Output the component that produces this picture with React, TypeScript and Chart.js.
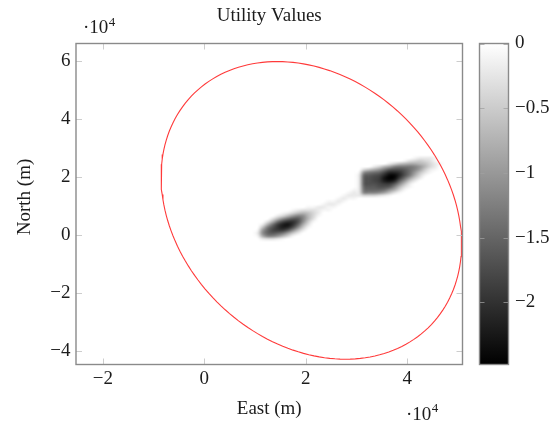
import React, { useEffect, useRef } from "react";
import { Chart, registerables } from "chart.js";

Chart.register(...registerables);

// ---------- data ----------
const TITLE = "Utility Values";
const X_LABEL = "East (m)";
const Y_LABEL = "North (m)";
const xLimits = [-25300, 50900];
const yLimits = [-44800, 66000];
const xTicks = [-20000, 0, 20000, 40000];
const yTicks = [-40000, -20000, 0, 20000, 40000, 60000];
const cbLimits = [-2.48, 0];
const cbTicks = [-2, -1.5, -1, -0.5, 0];

// utility grid, 1000 m cells: [row index j (north/1000), first column i (east/1000), codes]
// each code char = |utility| in tenths (base 36: 0-9, a=1.0 ... p=2.5)
const cellSize = 1000;
const heatRows: [number, number, string][] = [
  [26, 41, "12221"],
  [25, 39, "1345431"],
  [24, 36, "24678876421"],
  [23, 33, "2479cdddca742"],
  [22, 31, "468adghhgec9521"],
  [21, 30, "1bdefillkhea631"],
  [20, 30, "2fghiloolhd841"],
  [19, 30, "2ghijnpoje952"],
  [18, 30, "2ghijmnlfa52"],
  [17, 30, "2ghhijjgb62"],
  [16, 30, "2fgghhgc731"],
  [15, 29, "12efffeb841"],
  [14, 28, "122cccb9631"],
  [13, 27, "1222444321"],
  [12, 26, "1211"],
  [11, 24, "1121"],
  [10, 23, "1221"],
  [9, 20, "112211"],
  [8, 17, "12333211"],
  [7, 15, "12467642"],
  [6, 14, "247acb741"],
  [5, 13, "37beggc73"],
  [4, 12, "38eikkhb51"],
  [3, 11, "28ejmnkf83"],
  [2, 11, "6dhkmlhb51"],
  [1, 10, "1afijjgb62"],
  [0, 10, "2bfgfd952"],
  [-1, 10, "18cca741"],
  [-2, 11, "23321"],
];

// red boundary ellipse (center, semi-axes, rotation)
const ellipseCenter = [21100, 8400];
const ellipseSemiAxes = [52000, 28500];
const ellipseAngleDeg = 100.7;
const ellipseSamples = 180;

// ---------- derived ----------
const ellipsePoints = (() => {
  const th = (ellipseAngleDeg * Math.PI) / 180;
  const pts: { x: number; y: number }[] = [];
  for (let k = 0; k <= ellipseSamples; k++) {
    const t = (2 * Math.PI * k) / ellipseSamples;
    const a = ellipseSemiAxes[0] * Math.cos(t);
    const b = ellipseSemiAxes[1] * Math.sin(t);
    pts.push({
      x: ellipseCenter[0] + a * Math.cos(th) - b * Math.sin(th),
      y: ellipseCenter[1] + a * Math.sin(th) + b * Math.cos(th),
    });
  }
  return pts;
})();

const FONT = '"Liberation Serif", "Times New Roman", serif';
const FS = 19;
const TEXT = "#1c1c1c";
const FRAME = "#8a8a8a";
const TICK = "#cdcdcd";

const fmt = (v: number) => {
  const r = Math.round(v * 100) / 100;
  return String(r).replace("-", "\u2212");
};

const grayOf = (v: number) => {
  const f = Math.max(0, Math.min(1, v / cbLimits[0]));
  return Math.round(255 * (1 - f));
};

const pgfPlugin = {
  id: "pgf",
  beforeDatasetsDraw(chart: any) {
    const { ctx, chartArea: a, scales } = chart;
    const xs = scales.x;
    const ys = scales.y;
    let iMin = Infinity, iMax = -Infinity, jMin = Infinity, jMax = -Infinity;
    heatRows.forEach(([j, i0, s]) => {
      iMin = Math.min(iMin, i0);
      iMax = Math.max(iMax, i0 + s.length - 1);
      jMin = Math.min(jMin, j);
      jMax = Math.max(jMax, j);
    });
    iMin -= 1; iMax += 1; jMin -= 1; jMax += 1;
    const cols = iMax - iMin + 1;
    const rows = jMax - jMin + 1;
    const off = document.createElement("canvas");
    off.width = cols;
    off.height = rows;
    const octx = off.getContext("2d")!;
    const img = octx.createImageData(cols, rows);
    for (let p = 0; p < img.data.length; p += 4) {
      img.data[p] = img.data[p + 1] = img.data[p + 2] = 255;
      img.data[p + 3] = 255;
    }
    heatRows.forEach(([j, i0, s]) => {
      for (let k = 0; k < s.length; k++) {
        const v = -parseInt(s[k], 36) / 10;
        const g = grayOf(v);
        const idx = ((jMax - j) * cols + (i0 + k - iMin)) * 4;
        img.data[idx] = img.data[idx + 1] = img.data[idx + 2] = g;
      }
    });
    octx.putImageData(img, 0, 0);
    const x0 = xs.getPixelForValue(iMin * cellSize);
    const x1 = xs.getPixelForValue((iMax + 1) * cellSize);
    const y0 = ys.getPixelForValue((jMax + 1) * cellSize);
    const y1 = ys.getPixelForValue(jMin * cellSize);
    ctx.save();
    ctx.beginPath();
    ctx.rect(a.left, a.top, a.right - a.left, a.bottom - a.top);
    ctx.clip();
    ctx.imageSmoothingEnabled = true;
    ctx.imageSmoothingQuality = "high";
    ctx.drawImage(off, x0, y0, x1 - x0, y1 - y0);
    ctx.restore();
  },
  afterDraw(chart: any) {
    const { ctx, chartArea: a, scales } = chart;
    const xs = scales.x;
    const ys = scales.y;
    const cb = scales.cb;
    ctx.save();
    // inner tick marks
    ctx.strokeStyle = TICK;
    ctx.lineWidth = 1;
    const tl = 6;
    xTicks.forEach((v) => {
      const px = Math.round(xs.getPixelForValue(v)) + 0.5;
      ctx.beginPath();
      ctx.moveTo(px, a.bottom);
      ctx.lineTo(px, a.bottom - tl);
      ctx.moveTo(px, a.top);
      ctx.lineTo(px, a.top + tl);
      ctx.stroke();
    });
    yTicks.forEach((v) => {
      const py = Math.round(ys.getPixelForValue(v)) + 0.5;
      ctx.beginPath();
      ctx.moveTo(a.left, py);
      ctx.lineTo(a.left + tl, py);
      ctx.moveTo(a.right, py);
      ctx.lineTo(a.right - tl, py);
      ctx.stroke();
    });
    // frame
    ctx.strokeStyle = FRAME;
    ctx.lineWidth = 1.4;
    ctx.strokeRect(a.left, a.top, a.right - a.left, a.bottom - a.top);

    // colorbar
    const cbL = a.right + 17;
    const cbW = 29;
    const cTop = cb.getPixelForValue(cbLimits[1]);
    const cBot = cb.getPixelForValue(cbLimits[0]);
    const grad = ctx.createLinearGradient(0, cTop, 0, cBot);
    grad.addColorStop(0, `rgb(${grayOf(cbLimits[1])},${grayOf(cbLimits[1])},${grayOf(cbLimits[1])})`);
    grad.addColorStop(1, `rgb(${grayOf(cbLimits[0])},${grayOf(cbLimits[0])},${grayOf(cbLimits[0])})`);
    ctx.fillStyle = grad;
    ctx.fillRect(cbL, cTop, cbW, cBot - cTop);
    ctx.strokeStyle = "rgba(160,160,160,0.75)";
    ctx.lineWidth = 1;
    cbTicks.forEach((v) => {
      const py = Math.round(cb.getPixelForValue(v)) + 0.5;
      ctx.beginPath();
      ctx.moveTo(cbL, py);
      ctx.lineTo(cbL + 5, py);
      ctx.moveTo(cbL + cbW, py);
      ctx.lineTo(cbL + cbW - 5, py);
      ctx.stroke();
    });
    ctx.strokeStyle = FRAME;
    ctx.lineWidth = 1.4;
    ctx.strokeRect(cbL, cTop, cbW, cBot - cTop);

    // texts
    ctx.fillStyle = TEXT;
    ctx.font = `${FS}px ${FONT}`;
    ctx.textBaseline = "alphabetic";
    ctx.textAlign = "center";
    const cx = (a.left + a.right) / 2;
    ctx.fillText(TITLE, cx, 20.5);
    ctx.fillText(X_LABEL, cx, 414);

    const mult = (x: number, y: number) => {
      ctx.textAlign = "left";
      ctx.font = `${FS}px ${FONT}`;
      ctx.fillText("\u00b710", x, y);
      const w = ctx.measureText("\u00b710").width;
      ctx.font = `13px ${FONT}`;
      ctx.fillText("4", x + w + 0.5, y - 7.5);
    };
    mult(83, 33);
    mult(406, 419.5);

    ctx.save();
    ctx.font = `${FS}px ${FONT}`;
    ctx.textAlign = "center";
    ctx.translate(29.5, 197);
    ctx.rotate(-Math.PI / 2);
    ctx.fillText(Y_LABEL, 0, 0);
    ctx.restore();
    ctx.restore();
  },
};

const tickFont = { family: FONT, size: FS };

const noPad = (s: any) => {
  s.paddingTop = 0;
  s.paddingBottom = 0;
  s.paddingLeft = 0;
  s.paddingRight = 0;
};

export default function App() {
  const ref = useRef<HTMLCanvasElement>(null);
  useEffect(() => {
    const canvas = ref.current!;
    const chart = new Chart(canvas, {
      type: "scatter",
      data: {
        datasets: [
          {
            data: ellipsePoints,
            showLine: true,
            borderColor: "#ff3a3a",
            borderWidth: 1.1,
            pointRadius: 0,
            fill: false,
            tension: 0,
          },
        ],
      },
      options: {
        responsive: false,
        animation: false,
        devicePixelRatio: 1,
        layout: { padding: { top: 43.5, left: 0, right: 0, bottom: 0 } },
        plugins: {
          legend: { display: false },
          tooltip: { enabled: false },
          title: { display: false },
        },
        scales: {
          x: {
            type: "linear",
            position: "bottom",
            min: xLimits[0],
            max: xLimits[1],
            grid: { display: false, drawTicks: false },
            border: { display: false },
            ticks: {
              padding: 3,
              autoSkip: false,
              maxRotation: 0,
              font: tickFont,
              color: TEXT,
              callback: (v: any) => fmt(Number(v) / 1e4),
            },
            afterBuildTicks: (s: any) => {
              s.ticks = xTicks.map((v) => ({ value: v }));
            },
            afterFit: (s: any) => {
              s.height = 56.5;
              noPad(s);
            },
          },
          y: {
            type: "linear",
            position: "left",
            min: yLimits[0],
            max: yLimits[1],
            grid: { display: false, drawTicks: false },
            border: { display: false },
            ticks: {
              padding: 5.5,
              autoSkip: false,
              font: tickFont,
              color: TEXT,
              callback: (v: any) => fmt(Number(v) / 1e4),
            },
            afterBuildTicks: (s: any) => {
              s.ticks = yTicks.map((v) => ({ value: v }));
            },
            afterFit: (s: any) => {
              s.width = 76;
              noPad(s);
            },
          },
          cb: {
            type: "linear",
            position: "right",
            min: cbLimits[0],
            max: cbLimits[1],
            grid: { display: false, drawTicks: false },
            border: { display: false },
            ticks: {
              padding: 52.5,
              autoSkip: false,
              font: tickFont,
              color: TEXT,
              callback: (v: any) => fmt(Number(v)),
            },
            afterBuildTicks: (s: any) => {
              s.ticks = cbTicks.map((v) => ({ value: v }));
            },
            afterFit: (s: any) => {
              s.width = 95.5;
              noPad(s);
            },
          },
        },
      } as any,
      plugins: [pgfPlugin],
    });
    return () => chart.destroy();
  }, []);
  return (
    <div style={{ position: "absolute", left: 0, top: 0, width: 558, height: 421, background: "#fff" }}>
      <canvas ref={ref} width={558} height={421} style={{ width: 558, height: 421, display: "block" }} />
    </div>
  );
}
